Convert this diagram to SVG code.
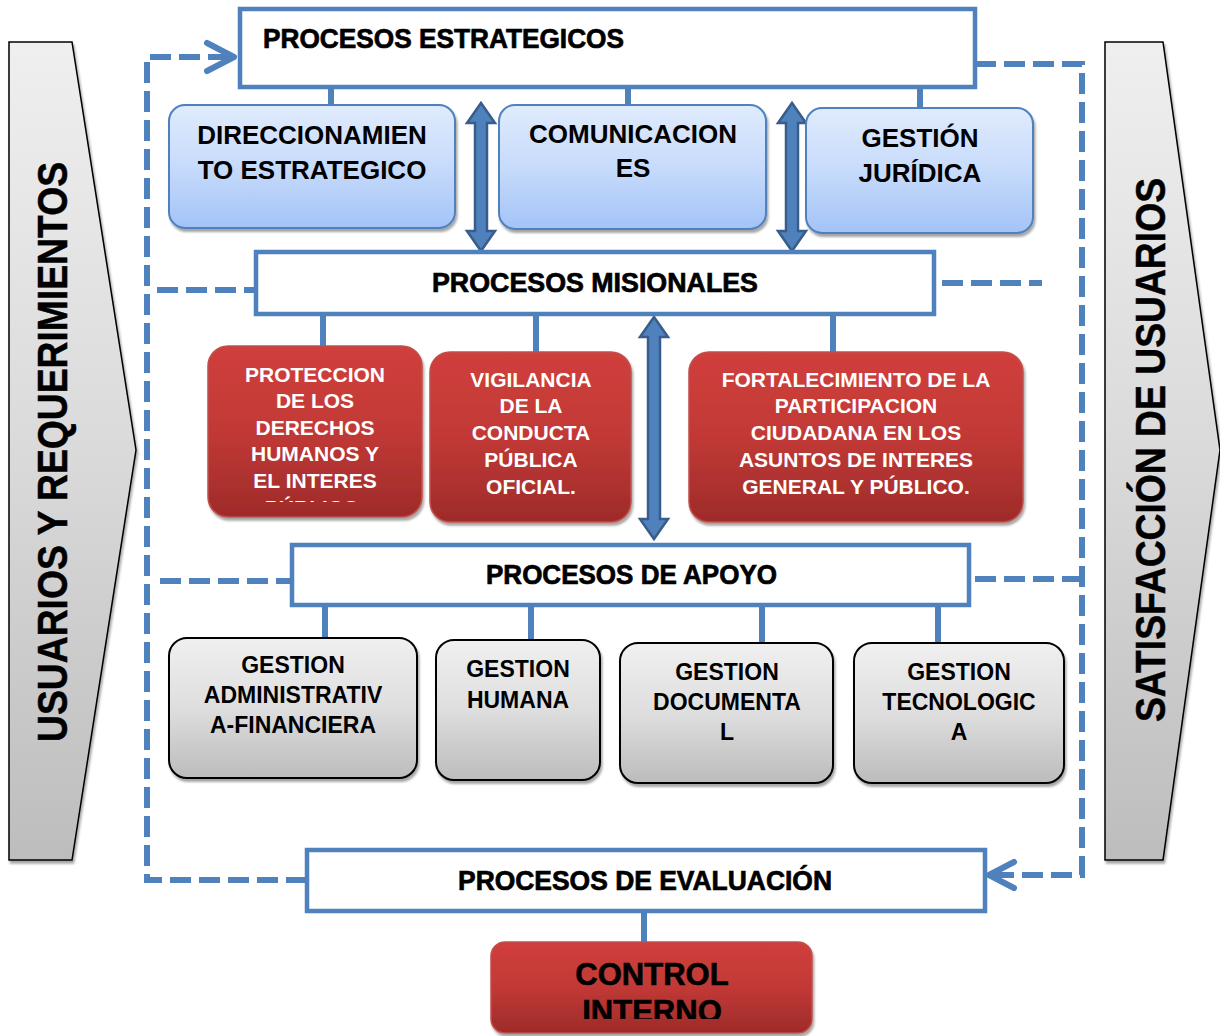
<svg xmlns="http://www.w3.org/2000/svg" width="1220" height="1036" viewBox="0 0 1220 1036">
<style>
.t{font-family:"Liberation Sans",Arial,sans-serif;font-weight:bold;text-anchor:middle}
.title{font-size:27px;fill:#000;stroke:#000;stroke-width:0.7}
.blue{font-size:26px;fill:#000}
.red{font-size:21px;fill:#fff}
.gray{font-size:23px;fill:#000}
.side{font-size:42px;fill:#000;stroke:#000;stroke-width:0.5}
.ctrl{font-size:31px;fill:#000;stroke:#000;stroke-width:0.6}
.frame{fill:#fff;stroke:#4f81bd;stroke-width:4.5}
.stub{stroke:#4f81bd;stroke-width:6;fill:none}
.dash{stroke:#4f81bd;stroke-width:6;fill:none;stroke-dasharray:21 8}
.chev{stroke:#4f81bd;stroke-width:6;fill:none;stroke-linecap:round;stroke-linejoin:round}
.dbl{fill:#4f81bd;stroke:#385d8a;stroke-width:2.5}
.bbox{fill:url(#gBlue);stroke:#4f81bd;stroke-width:2;filter:url(#sh)}
.rbox{fill:url(#gRed);stroke:#c0504d;stroke-width:1.5;filter:url(#sh)}
.gbox{fill:url(#gGray);stroke:#000;stroke-width:2;filter:url(#sh)}
.sbox{fill:url(#gSide);stroke:#000;stroke-width:1.5;filter:url(#sh)}
</style>
<defs>
<linearGradient id="gBlue" x1="0" y1="0" x2="0" y2="1"><stop offset="0" stop-color="#e0ebfd"/><stop offset="0.5" stop-color="#c7dbfb"/><stop offset="1" stop-color="#a3c3f7"/></linearGradient>
<linearGradient id="gRed" x1="0" y1="0" x2="0" y2="1"><stop offset="0" stop-color="#d03f3c"/><stop offset="0.5" stop-color="#c13936"/><stop offset="1" stop-color="#9e2b29"/></linearGradient>
<linearGradient id="gGray" x1="0" y1="0" x2="0" y2="1"><stop offset="0" stop-color="#f0f0f0"/><stop offset="0.5" stop-color="#dedede"/><stop offset="1" stop-color="#bcbcbc"/></linearGradient>
<linearGradient id="gSide" x1="0" y1="0" x2="0" y2="1"><stop offset="0" stop-color="#efefef"/><stop offset="0.5" stop-color="#dadada"/><stop offset="1" stop-color="#bdbdbd"/></linearGradient>
<filter id="sh" x="-10%" y="-10%" width="120%" height="125%"><feDropShadow dx="1.5" dy="3" stdDeviation="1.2" flood-color="#000" flood-opacity="0.35"/></filter>
<clipPath id="clipProt"><rect x="208" y="346" width="214" height="156"/></clipPath>
<clipPath id="clipCtrl"><rect x="491" y="942" width="321" height="77"/></clipPath>
</defs>

<g id="side-left">
<polygon class="sbox" points="9,42 72,42 136,450 72,860 9,860"/>
<text class="t side" transform="translate(67,452) rotate(-90)" textLength="580" lengthAdjust="spacingAndGlyphs">USUARIOS Y REQUERIMIENTOS</text>
</g>
<g id="side-right">
<polygon class="sbox" points="1105,42 1163,42 1220,450 1163,860 1105,860"/>
<text class="t side" transform="translate(1165,450) rotate(-90)" textLength="544" lengthAdjust="spacingAndGlyphs">SATISFACCIÓN DE USUARIOS</text>
</g>

<g id="connectors">
<path class="stub" d="M331 87V106M628 87V106M920 87V110"/>
<path class="stub" d="M323 314V347M536 314V353M833 314V353"/>
<path class="stub" d="M325 605V639M531 605V641M762 605V644M938 605V644"/>
<path class="stub" d="M644 911V943"/>
<path class="dash" d="M307 880H147V57H232"/>
<polyline class="chev" points="207,43 234,57 207,71"/>
<path class="dash" d="M157 290H255"/>
<path class="dash" d="M160 581H292"/>
<path class="dash" d="M975 64H1082V875H992"/>
<polyline class="chev" points="1014,862 989,875 1014,888"/>
<path class="dash" d="M942 283H1042"/>
<path class="dash" d="M975 579H1082"/>
<path class="dbl" d="M481 103L495 123L487 123L487 231L495 231L481 251L467 231L475 231L475 123L467 123Z"/>
<path class="dbl" d="M792 103L806 123L798 123L798 231L806 231L792 251L778 231L786 231L786 123L778 123Z"/>
<path class="dbl" d="M654 317L668 337L660 337L660 519L668 519L654 539L640 519L648 519L648 337L640 337Z"/>
</g>

<g id="estrategicos">
<rect class="frame" x="240" y="9" width="735" height="78"/>
<text class="t title" x="443.5" y="48" textLength="361" lengthAdjust="spacingAndGlyphs">PROCESOS ESTRATEGICOS</text>
</g>
<g id="direccionamiento">
<rect class="bbox" x="169" y="105" width="286" height="123" rx="16"/>
<text class="t blue" x="312" y="144">DIRECCIONAMIEN</text>
<text class="t blue" x="312" y="179">TO ESTRATEGICO</text>
</g>
<g id="comunicaciones">
<rect class="bbox" x="499" y="105" width="267" height="124" rx="16"/>
<text class="t blue" x="633" y="143">COMUNICACION</text>
<text class="t blue" x="633" y="177">ES</text>
</g>
<g id="juridica">
<rect class="bbox" x="806" y="108" width="227" height="125" rx="16"/>
<text class="t blue" x="920" y="147">GESTIÓN</text>
<text class="t blue" x="920" y="182">JURÍDICA</text>
</g>

<g id="misionales">
<rect class="frame" x="256" y="252" width="678" height="62"/>
<text class="t title" x="595" y="292" textLength="326" lengthAdjust="spacingAndGlyphs">PROCESOS MISIONALES</text>
</g>
<g id="proteccion">
<rect class="rbox" x="208" y="346" width="214" height="171" rx="20"/>
<g clip-path="url(#clipProt)">
<text class="t red" x="315" y="382">PROTECCION</text>
<text class="t red" x="315" y="408">DE LOS</text>
<text class="t red" x="315" y="435">DERECHOS</text>
<text class="t red" x="315" y="461">HUMANOS Y</text>
<text class="t red" x="315" y="488">EL INTERES</text>
<text class="t red" x="315" y="515">PÚBLICO.</text>
</g>
</g>
<g id="vigilancia">
<rect class="rbox" x="430" y="352" width="201" height="170" rx="20"/>
<text class="t red" x="531" y="387">VIGILANCIA</text>
<text class="t red" x="531" y="413">DE LA</text>
<text class="t red" x="531" y="440">CONDUCTA</text>
<text class="t red" x="531" y="467">PÚBLICA</text>
<text class="t red" x="531" y="494">OFICIAL.</text>
</g>
<g id="fortalecimiento">
<rect class="rbox" x="689" y="352" width="334" height="170" rx="20"/>
<text class="t red" x="856" y="387">FORTALECIMIENTO DE LA</text>
<text class="t red" x="856" y="413">PARTICIPACION</text>
<text class="t red" x="856" y="440">CIUDADANA EN LOS</text>
<text class="t red" x="856" y="467">ASUNTOS DE INTERES</text>
<text class="t red" x="856" y="494">GENERAL Y PÚBLICO.</text>
</g>

<g id="apoyo">
<rect class="frame" x="292" y="545" width="677" height="60"/>
<text class="t title" x="631.5" y="584" textLength="291" lengthAdjust="spacingAndGlyphs">PROCESOS DE APOYO</text>
</g>
<g id="administrativa">
<rect class="gbox" x="169" y="638" width="248" height="140" rx="18"/>
<text class="t gray" x="293" y="673">GESTION</text>
<text class="t gray" x="293" y="703">ADMINISTRATIV</text>
<text class="t gray" x="293" y="733">A-FINANCIERA</text>
</g>
<g id="humana">
<rect class="gbox" x="436" y="640" width="164" height="140" rx="18"/>
<text class="t gray" x="518" y="677">GESTION</text>
<text class="t gray" x="518" y="708">HUMANA</text>
</g>
<g id="documental">
<rect class="gbox" x="620" y="643" width="213" height="140" rx="18"/>
<text class="t gray" x="727" y="680">GESTION</text>
<text class="t gray" x="727" y="710">DOCUMENTA</text>
<text class="t gray" x="727" y="740">L</text>
</g>
<g id="tecnologica">
<rect class="gbox" x="854" y="643" width="210" height="140" rx="18"/>
<text class="t gray" x="959" y="680">GESTION</text>
<text class="t gray" x="959" y="710">TECNOLOGIC</text>
<text class="t gray" x="959" y="740">A</text>
</g>

<g id="evaluacion">
<rect class="frame" x="307" y="850" width="678" height="61"/>
<text class="t title" x="645" y="890" textLength="374" lengthAdjust="spacingAndGlyphs">PROCESOS DE EVALUACIÓN</text>
</g>
<g id="control-interno">
<rect class="rbox" x="491" y="942" width="321" height="91" rx="14"/>
<g clip-path="url(#clipCtrl)">
<text class="t ctrl" x="652" y="985">CONTROL</text>
<text class="t ctrl" x="652" y="1022">INTERNO</text>
</g>
</g>
</svg>
